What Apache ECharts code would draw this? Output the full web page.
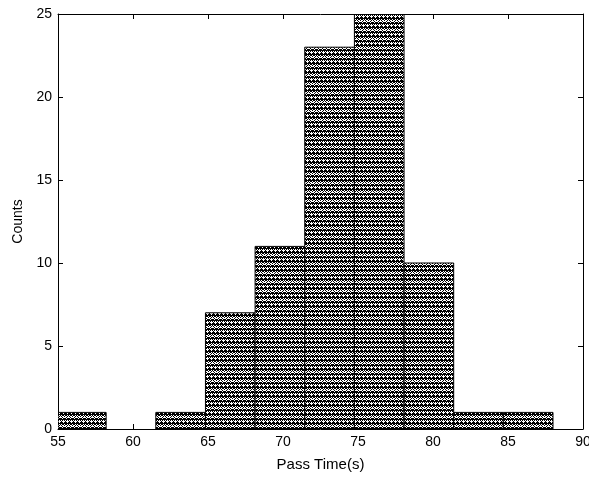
<!DOCTYPE html>
<html>
<head>
<meta charset="utf-8">
<script src="https://cdn.jsdelivr.net/npm/echarts@6/dist/echarts.min.js"></script>
<style>
html,body{margin:0;padding:0;background:#fff;}
#chart{width:589px;height:477px;}
</style>
</head>
<body>
<div id="chart"></div>
<script>
// Histogram data (bin lower edges, bin width, counts)
const binStarts = [54.9, 58.21, 61.52, 64.83, 68.14, 71.45, 74.76, 78.07, 81.38, 84.69];
const binWidth = 3.31;
const counts = [1, 0, 1, 7, 11, 23, 25, 10, 1, 1];
const xTicks = [55, 60, 65, 70, 75, 80, 85, 90];
const yTicks = [0, 5, 10, 15, 20, 25];
const xLabel = 'Pass Time(s)';
const yLabel = 'Counts';

// hatch-like texture
function makePattern() {
  const rows = [
    '11111111',
    '01101011',
    '10010100',
    '00100010',
    '11011101',
    '11111111',
    '10101010',
    '01000100',
    '11101110'
  ];
  const c = document.createElement('canvas');
  c.width = rows[0].length; c.height = rows.length;
  const ctx = c.getContext('2d');
  ctx.fillStyle = '#fff'; ctx.fillRect(0, 0, c.width, c.height);
  ctx.fillStyle = '#000';
  rows.forEach((r, y) => { for (let x = 0; x < r.length; x++) if (r[x] === '1') ctx.fillRect(x, y, 1, 1); });
  return c;
}
const pattern = makePattern();

const data = binStarts.map((s, i) => [s, s + binWidth, counts[i]]);

const chart = echarts.init(document.getElementById('chart'), null, {renderer: 'canvas'});
const font = 'Liberation Sans, Arial, sans-serif';
const axisCommon = {
  axisLine: {show: true, onZero: false, lineStyle: {color: '#000', width: 1}},
  axisTick: {show: true, inside: true, length: 5, lineStyle: {color: '#000'}},
  splitLine: {show: false}
};
chart.setOption({
  animation: false,
  backgroundColor: '#fff',
  grid: {left: 58, right: 6, top: 14, bottom: 48, containLabel: false, outerBoundsMode: 'none'},
  xAxis: [
    Object.assign({
      type: 'value', min: xTicks[0], max: xTicks[xTicks.length - 1], interval: 5, position: 'bottom',
      axisLabel: {color: '#000', fontFamily: font, fontSize: 14, margin: 6},
      name: xLabel, nameLocation: 'middle', nameGap: 28,
      nameTextStyle: {color: '#000', fontFamily: font, fontSize: 15}
    }, axisCommon),
    Object.assign({
      type: 'value', min: xTicks[0], max: xTicks[xTicks.length - 1], interval: 5, position: 'top',
      axisLabel: {show: false}
    }, axisCommon)
  ],
  yAxis: [
    Object.assign({
      type: 'value', min: yTicks[0], max: yTicks[yTicks.length - 1], interval: 5, position: 'left',
      axisLabel: {color: '#000', fontFamily: font, fontSize: 14, margin: 6},
      name: yLabel, nameLocation: 'middle', nameGap: 33, nameRotate: 90,
      nameTextStyle: {color: '#000', fontFamily: font, fontSize: 14}
    }, axisCommon),
    Object.assign({
      type: 'value', min: yTicks[0], max: yTicks[yTicks.length - 1], interval: 5, position: 'right',
      axisLabel: {show: false}
    }, axisCommon)
  ],
  series: [{
    type: 'custom',
    xAxisIndex: 0, yAxisIndex: 0,
    data: data,
    clip: true,
    renderItem: function (params, api) {
      const v = api.value(2);
      if (!v) return null;
      const p0 = api.coord([api.value(0), v]);
      const p1 = api.coord([api.value(1), 0]);
      const rect = {x: p0[0], y: p0[1], width: p1[0] - p0[0], height: p1[1] - p0[1]};
      const clipped = echarts.graphic.clipRectByRect(rect, {
        x: params.coordSys.x, y: params.coordSys.y,
        width: params.coordSys.width, height: params.coordSys.height
      });
      if (!clipped) return null;
      return {
        type: 'rect',
        shape: clipped,
        style: {fill: {image: pattern, repeat: 'repeat'}, stroke: '#000', lineWidth: 1}
      };
    }
  }]
});
</script>
</body>
</html>
